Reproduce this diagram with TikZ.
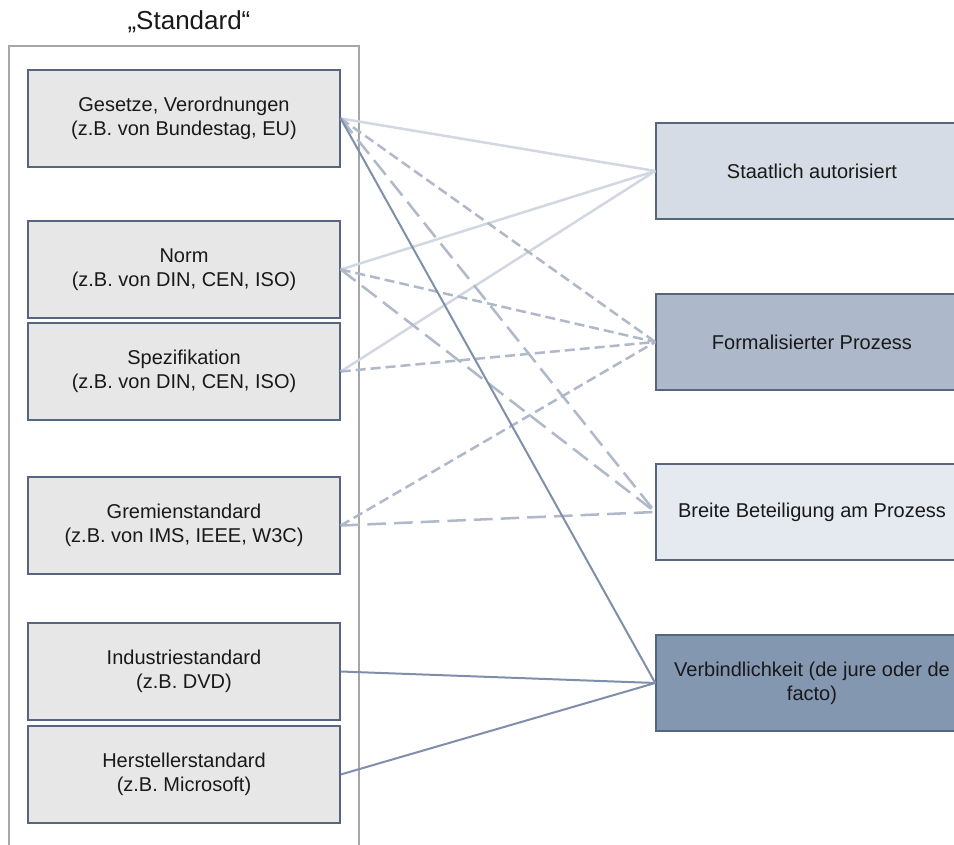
\documentclass[tikz,border=0pt]{standalone}
\usepackage{fontspec}
\setmainfont{Liberation Sans}
\definecolor{boxgray}{HTML}{E7E7E7}
\definecolor{boxedge}{HTML}{56667E}
\definecolor{framegray}{HTML}{A6A6A6}
\definecolor{staatfill}{HTML}{D6DCE5}
\definecolor{formfill}{HTML}{ADB9CA}
\definecolor{breitfill}{HTML}{E5E9F0}
\definecolor{verbfill}{HTML}{8497B0}
\definecolor{linelight}{HTML}{D2D8E2}
\definecolor{linemid}{HTML}{B0B9C9}
\definecolor{linedark}{HTML}{7F8FA9}

\begin{document}
\begin{tikzpicture}[x=0.75pt,y=-0.75pt,
  leftbox/.style={draw=boxedge, line width=1.1pt, fill=boxgray, minimum width=234pt, minimum height=72.75pt, align=center, text=black!90, font=\fontsize{15}{18}\selectfont},
  rightbox/.style={draw=boxedge, line width=1.1pt, minimum width=234pt, minimum height=72pt, align=center, text=black!90, font=\fontsize{15}{18}\selectfont},
  lightline/.style={draw=linelight, line width=1.9pt},
  shortdash/.style={draw=linemid, line width=1.9pt, dash pattern=on 7.5pt off 3.75pt},
  longdash/.style={draw=linemid, line width=1.9pt, dash pattern=on 14pt off 6pt},
  darkline/.style={draw=linedark, line width=1.5pt}]
\useasboundingbox (0,0) rectangle (954,845);
% Rahmen "Standard"
\draw [framegray, line width=1.5pt] (9,860) -- (9,46) -- (359,46) -- (359,860);
\node [font=\fontsize{19.5}{23}\selectfont, text=black!90] (titel) at (189,22) {„Standard“};
% linke Spalte
\node [leftbox] (gesetze) at (184,118.5) {Gesetze, Verordnungen\\(z.B. von Bundestag, EU)};
\node [leftbox] (norm) at (184,269.5) {Norm\\(z.B. von DIN, CEN, ISO)};
\node [leftbox] (spez) at (184,371.5) {Spezifikation\\(z.B. von DIN, CEN, ISO)};
\node [leftbox] (gremium) at (184,525.5) {Gremienstandard\\(z.B. von IMS, IEEE, W3C)};
\node [leftbox] (industrie) at (184,671.5) {Industriestandard\\(z.B. DVD)};
\node [leftbox] (hersteller) at (184,774.5) {Herstellerstandard\\(z.B. Microsoft)};
% rechte Spalte
\node [rightbox, fill=staatfill] (staat) at (812,171) {Staatlich autorisiert};
\node [rightbox, fill=formfill] (formal) at (812,342) {Formalisierter Prozess};
\node [rightbox, fill=breitfill] (breit) at (812,512) {Breite Beteiligung am Prozess};
\node [rightbox, fill=verbfill] (verb) at (812,683) {Verbindlichkeit (de jure oder de\\facto)};
% Verbindungen
\draw [lightline] (gesetze.east) -- (staat.west);
\draw [lightline] (norm.east) -- (staat.west);
\draw [lightline] (spez.east) -- (staat.west);
\draw [shortdash] (gesetze.east) -- (formal.west);
\draw [shortdash] (norm.east) -- (formal.west);
\draw [shortdash] (spez.east) -- (formal.west);
\draw [shortdash] (gremium.east) -- (formal.west);
\draw [longdash] (gesetze.east) -- (breit.west);
\draw [longdash] (norm.east) -- (breit.west);
\draw [longdash] (gremium.east) -- (breit.west);
\draw [darkline] (gesetze.east) -- (verb.west);
\draw [darkline] (industrie.east) -- (verb.west);
\draw [darkline] (hersteller.east) -- (verb.west);
\end{tikzpicture}
\end{document}
